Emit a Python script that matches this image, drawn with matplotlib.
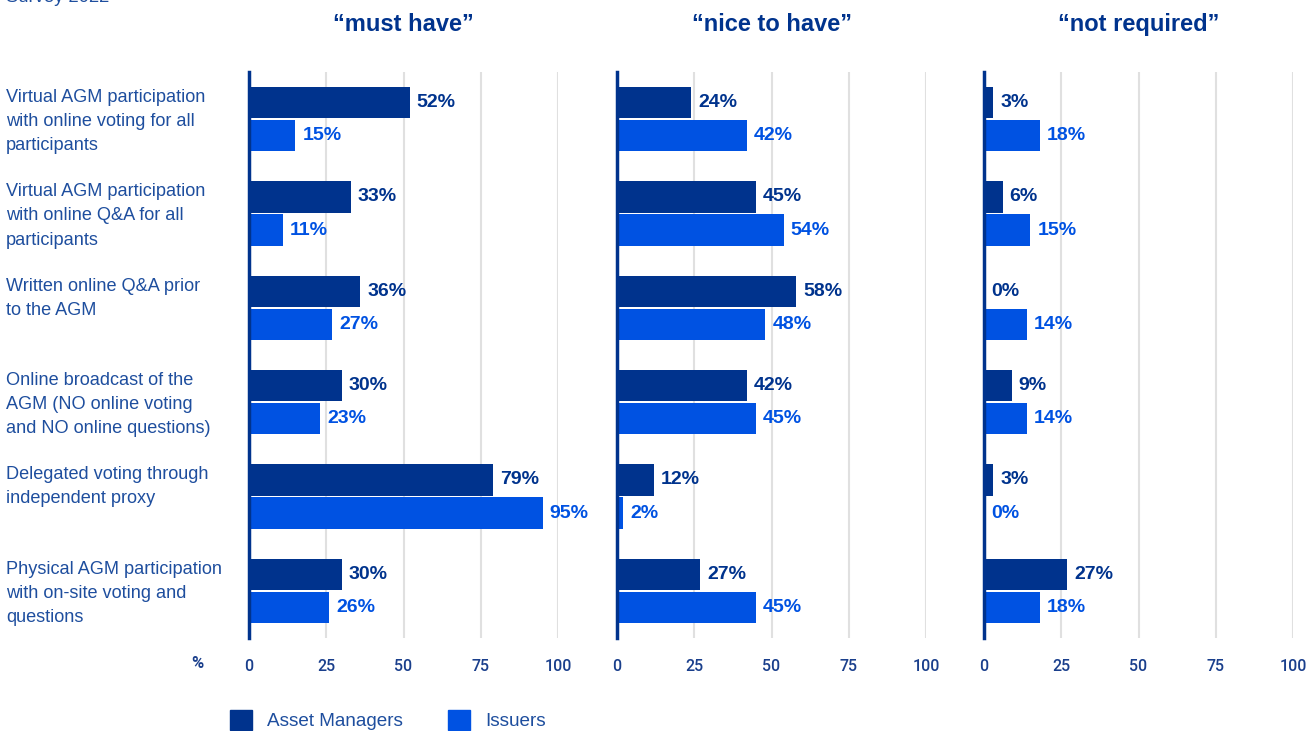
import matplotlib.pyplot as plt
from matplotlib.patches import Patch
from matplotlib.transforms import blended_transform_factory

categories = [
    "Virtual AGM participation\nwith online voting for all\nparticipants",
    "Virtual AGM participation\nwith online Q&A for all\nparticipants",
    "Written online Q&A prior\nto the AGM",
    "Online broadcast of the\nAGM (NO online voting\nand NO online questions)",
    "Delegated voting through\nindependent proxy",
    "Physical AGM participation\nwith on-site voting and\nquestions",
]
panel_titles = ["\u201cmust have\u201d", "\u201cnice to have\u201d", "\u201cnot required\u201d"]
asset_managers = [
    [52, 33, 36, 30, 79, 30],
    [24, 45, 58, 42, 12, 27],
    [3, 6, 0, 9, 3, 27],
]
issuers = [
    [15, 11, 27, 23, 95, 26],
    [42, 54, 48, 45, 2, 45],
    [18, 15, 14, 14, 0, 18],
]
xticks = [0, 25, 50, 75, 100]

DARK = "#00338D"
LIGHT = "#0052E2"
TEXT = "#1E4E9E"
TICK = "#1A3F8C"

W, H = 1314, 731
fig = plt.figure(figsize=(W / 100, H / 100), dpi=100)

lefts = [249, 617, 984]
width = 309
top, bottom = 72, 638
bh = 0.33
off = 0.175

axes = []
for k, left in enumerate(lefts):
    ax = fig.add_axes([left / W, 1 - bottom / H, width / W, (bottom - top) / H])
    axes.append(ax)
    ypos = list(range(len(categories)))
    ax.barh([y - off for y in ypos], asset_managers[k], height=bh, color=DARK, zorder=3)
    ax.barh([y + off for y in ypos], issuers[k], height=bh, color=LIGHT, zorder=3)
    for y, v in zip(ypos, asset_managers[k]):
        ax.annotate(f"{v}%", (v, y - off), xytext=(5, 0), textcoords="offset points",
                    va="center", ha="left", fontsize=14, fontweight="bold",
                    color=DARK, family="Liberation Sans", annotation_clip=False)
    for y, v in zip(ypos, issuers[k]):
        ax.annotate(f"{v}%", (v, y + off), xytext=(5, 0), textcoords="offset points",
                    va="center", ha="left", fontsize=14, fontweight="bold",
                    color=LIGHT, family="Liberation Sans", annotation_clip=False)
    ax.set_xlim(0, 100)
    ax.set_ylim(len(categories) - 0.5, -0.5)
    ax.set_xticks(xticks)
    ax.set_yticks([])
    ax.tick_params(axis="x", length=0, pad=15, labelsize=11.5, labelcolor=TICK)
    for lab in ax.get_xticklabels():
        lab.set_family("Roboto")
        lab.set_fontweight("medium")
    ax.grid(axis="x", color="#E0E0E0", linewidth=1.5, zorder=0)
    for s in ["top", "right", "bottom"]:
        ax.spines[s].set_visible(False)
    ax.spines["left"].set_color(DARK)
    ax.spines["left"].set_linewidth(2.5)
    ax.spines["left"].set_zorder(4)
    ax.set_title(panel_titles[k], fontsize=17, fontweight="bold", color=DARK,
                 family="Liberation Sans", pad=29.5)

# category labels
tr = blended_transform_factory(fig.transFigure, axes[0].transData)
for i, c in enumerate(categories):
    axes[0].text(6 / W, i - 0.32, c, transform=tr, ha="left", va="top",
                 fontsize=13.1, color=TEXT, family="Liberation Sans", linespacing=1.55)

# "%" unit label on the tick row
fig.text(197 / W, 1 - 664 / H, "%", ha="center", va="center", fontsize=12,
         fontweight="bold", color=TICK, family="Roboto")

# header text, cut by the top edge as in the source
fig.text(6 / W, 1 - 2 / H, "Survey 2022", ha="left", va="baseline", fontsize=13.3,
         color=TEXT, family="Liberation Sans")

handles = [Patch(color=DARK, label="Asset Managers"), Patch(color=LIGHT, label="Issuers")]
fig.legend(handles=handles, loc="center left", bbox_to_anchor=(230 / W, 1 - 720 / H),
           ncol=2, frameon=False, handlelength=1.16, handleheight=1.25,
           handletextpad=0.8, columnspacing=2.4, borderpad=0, borderaxespad=0,
           labelcolor=TEXT, prop={"family": "Liberation Sans", "size": 13.6})

fig.savefig("out.png", dpi=100)
